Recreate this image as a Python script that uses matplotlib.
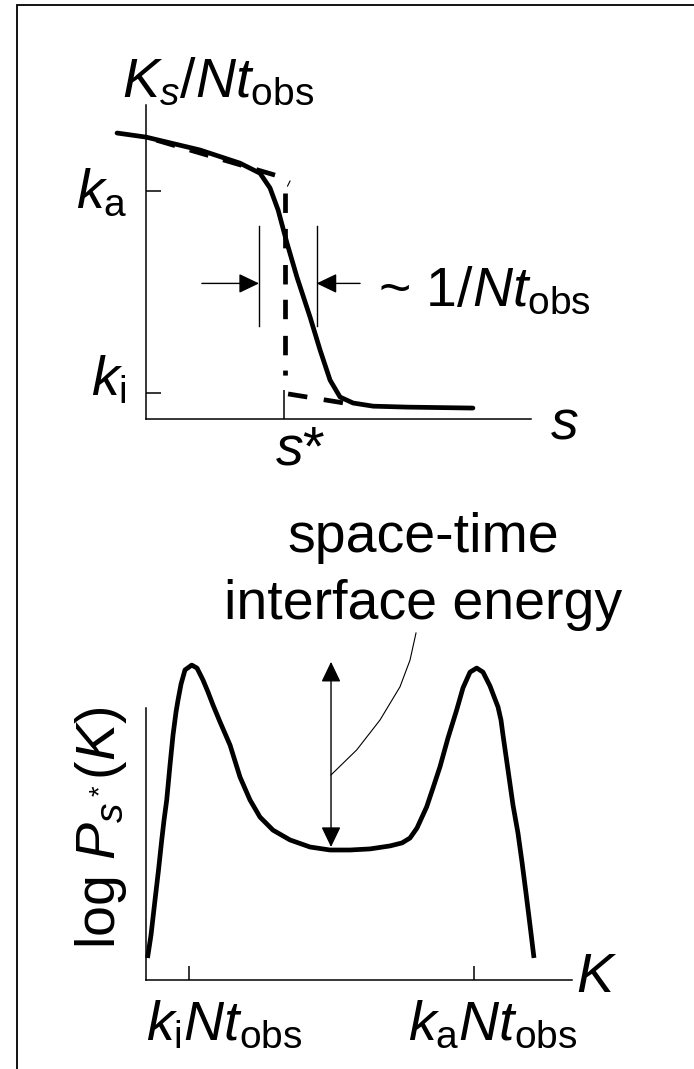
import matplotlib.pyplot as plt
import matplotlib.patches as mpatches

plt.rcParams['font.family'] = ['Liberation Sans', 'DejaVu Sans']
plt.rcParams['mathtext.fontset'] = 'custom'
plt.rcParams['mathtext.rm'] = 'Liberation Sans'
plt.rcParams['mathtext.it'] = 'Liberation Sans:italic'
plt.rcParams['mathtext.bf'] = 'Liberation Sans:bold'
plt.rcParams['lines.scale_dashes'] = False

# --- top panel: K_s/Nt_obs against s ---
s_curve = [-0.753, 0.0, 0.545, 1.40, 2.44, 2.96, 3.22, 3.43, 3.66, 3.92,
           4.26, 4.52, 4.78, 5.04, 5.38, 5.90, 6.78, 8.49]
k_curve = [9.11, 8.98, 8.82, 8.57, 8.15, 7.83, 7.36, 6.66, 5.61, 4.52,
           3.25, 2.20, 1.24, 0.70, 0.51, 0.41, 0.38, 0.35]
upper_asym_s = [3.35, 0.0]
upper_asym_k = [7.77, 8.98]
lower_asym_s = [3.69, 5.30]
lower_asym_k = [0.80, 0.48]
s_star = 3.62
s_star_line = [7.20, 1.34]
k_a, k_i = 7.26, 0.84
width_edges = [2.935, 4.43]
width_span = [2.96, 6.15]
width_arrow_y = 4.32
width_arrow_tails = [1.45, 5.56]

# --- bottom panel: log P_s*(K) against K ---
K_curve = [0.035, 0.117, 0.211, 0.293, 0.369, 0.423, 0.486, 0.563, 0.634, 0.704,
           0.751, 0.822, 0.915, 1.073, 1.197, 1.338, 1.455, 1.573, 1.737, 1.972,
           2.207, 2.441, 2.676, 2.981, 3.380, 3.850, 4.319, 4.789, 5.258, 5.728,
           6.009, 6.197, 6.362, 6.589, 6.737, 6.901, 7.089, 7.293, 7.441, 7.606,
           7.763, 7.911, 8.075, 8.263, 8.333, 8.380, 8.498, 8.615, 8.732, 8.826,
           8.920, 9.014, 9.108]
logP_curve = [0.81, 1.65, 2.94, 4.04, 5.15, 5.88, 6.62, 7.90, 9.01, 9.85,
              10.29, 10.88, 11.40, 11.58, 11.47, 11.03, 10.59, 10.11, 9.49, 8.64,
              7.46, 6.62, 5.99, 5.51, 5.15, 4.89, 4.78, 4.78, 4.82, 4.93,
              5.04, 5.22, 5.59, 6.37, 7.06, 7.84, 8.90, 9.93, 10.74, 11.32,
              11.47, 11.32, 10.81, 10.04, 9.56, 9.01, 7.72, 6.43, 5.40, 4.34,
              3.20, 2.02, 0.81]
barrier_x = 4.343
barrier_top, barrier_bottom = 11.70, 4.89
leader_K = [6.338, 6.197, 5.962, 5.493, 4.946, 4.343]
leader_P = [12.76, 11.76, 10.78, 9.56, 8.46, 7.54]
K_ticks = [1.01, 7.71]

fig = plt.figure(figsize=(6.94, 10.69), dpi=100)
fig.add_artist(mpatches.Rectangle((17 / 694, -0.05), 1.0, 0.9949 + 0.05,
                                  transform=fig.transFigure, fill=False,
                                  lw=1.3, color='k'))

FS = 40
LW = 3.4

ax1 = fig.add_axes([0.2104, 0.6080, 0.5548, 0.2937])
ax2 = fig.add_axes([0.2104, 0.08326, 0.6138, 0.2544])
for ax in (ax1, ax2):
    ax.set_xlim(0, 10)
    ax.set_ylim(0, 10)
    for side in ('top', 'right'):
        ax.spines[side].set_visible(False)
    for side in ('left', 'bottom'):
        ax.spines[side].set_linewidth(1.1)
    ax.set_facecolor('none')

# top panel
ax1.plot(s_curve, k_curve, color='k', lw=LW, solid_capstyle='round',
         solid_joinstyle='round', clip_on=False)
ax1.plot(upper_asym_s, upper_asym_k, color='k', lw=LW,
         linestyle=(0, (14, 11)), clip_on=False)
ax1.plot(lower_asym_s, lower_asym_k, color='k', lw=LW,
         linestyle=(0, (14, 12)), clip_on=False)
ax1.plot([s_star, s_star], s_star_line, color='k', lw=LW,
         linestyle=(0, (14, 11.5, 14, 12, 14, 11, 14, 12, 14, 11, 3.6, 60)))
ax1.plot([3.675, 3.74], [7.42, 7.58], color='k', lw=0.8)
for xe in width_edges:
    ax1.plot([xe, xe], width_span, color='k', lw=1.0)
for tail, head in zip(width_arrow_tails, width_edges):
    ax1.annotate('', xy=(head, width_arrow_y), xytext=(tail, width_arrow_y),
                 annotation_clip=False,
                 arrowprops=dict(arrowstyle='-|>,head_length=1.25,head_width=0.6',
                                 mutation_scale=10, lw=1.0, color='k',
                                 shrinkA=0, shrinkB=0))

ax1.set_yticks([k_a, k_i])
ax1.set_yticklabels([])
ax1.tick_params(axis='y', direction='in', length=10.8, width=1.1)
ax1.set_xticks([3.59])
ax1.set_xticklabels([])
ax1.tick_params(axis='x', direction='in', length=21, width=1.1)

ax1.text(-0.62, 10.25, r'$K_s/Nt_{\mathrm{obs}}$', fontsize=FS,
         ha='left', va='baseline', clip_on=False)
ax1.text(-0.49, 6.72, r'$k_{\mathrm{a}}$', fontsize=FS, ha='right', va='baseline')
ax1.text(-0.49, 0.76, r'$k_{\mathrm{i}}$', fontsize=FS, ha='right', va='baseline')
ax1.text(6.03, 3.60, r'~ 1/$Nt_{\mathrm{obs}}$', fontsize=FS, ha='left', va='baseline')
ax1.text(10.49, -0.605, r'$s$', fontsize=FS, ha='left', va='baseline')
ax1.text(3.35, -1.46, r'$s$*', fontsize=FS, ha='left', va='baseline')

# bottom panel
ax2.plot(K_curve, logP_curve, color='k', lw=LW, solid_capstyle='butt',
         solid_joinstyle='round', clip_on=False)
ax2.annotate('', xy=(barrier_x, barrier_top), xytext=(barrier_x, barrier_bottom),
             annotation_clip=False,
             arrowprops=dict(arrowstyle='<|-|>,head_length=1.25,head_width=0.6',
                             mutation_scale=10, lw=1.0, color='k',
                             shrinkA=0, shrinkB=0))
ax2.plot(leader_K, leader_P, color='k', lw=0.8, clip_on=False)

ax2.set_yticks([])
ax2.set_xticks(K_ticks)
ax2.set_xticklabels([])
ax2.tick_params(axis='x', direction='in', length=10.4, width=1.1)

ax2.text(6.50, 15.74, 'space-time', fontsize=FS, ha='center', va='baseline')
ax2.text(6.50, 13.27, 'interface energy', fontsize=FS, ha='center', va='baseline')
ax2.text(-0.728, 5.59, r'log $P_{s^*}(K)$', fontsize=FS, rotation=90,
         rotation_mode='anchor', ha='center', va='baseline')
ax2.text(0.0, -2.21, r'$k_{\mathrm{i}}Nt_{\mathrm{obs}}$', fontsize=FS,
         ha='left', va='baseline')
ax2.text(6.14, -2.21, r'$k_{\mathrm{a}}Nt_{\mathrm{obs}}$', fontsize=FS,
         ha='left', va='baseline')
ax2.text(10.09, -0.44, r'$K$', fontsize=FS, ha='left', va='baseline')

fig.savefig('out.png', dpi=100, facecolor='white')
